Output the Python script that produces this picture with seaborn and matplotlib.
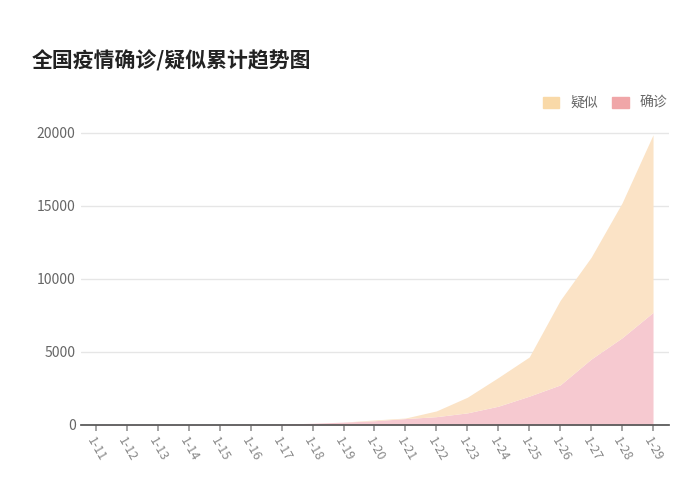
import matplotlib
matplotlib.use("Agg")
import matplotlib.pyplot as plt
import seaborn as sns
import numpy as np
from matplotlib.patches import Patch

dates = ["1-11","1-12","1-13","1-14","1-15","1-16","1-17","1-18","1-19","1-20",
         "1-21","1-22","1-23","1-24","1-25","1-26","1-27","1-28","1-29"]
confirmed = [41,41,41,41,41,45,62,121,198,291,440,571,830,1287,1975,2744,4515,5974,7711]
suspected = [0,0,0,0,0,0,0,0,0,54,37,393,1072,1965,2684,5794,6973,9239,12167]

sns.set_theme(style="white")
plt.rcParams['font.family'] = ['Noto Sans CJK SC', 'DejaVu Sans']

fig = plt.figure(figsize=(7, 5), dpi=100)
ax = fig.add_axes([0.115, 0.15, 0.84, 0.63])
x = np.arange(len(dates))
top = np.array(confirmed) + np.array(suspected)
ax.fill_between(x, 0, confirmed, color="#f6c9d0", lw=0, zorder=2)
ax.fill_between(x, confirmed, top, color="#fbe3c6", lw=0, zorder=2)
ax.set_xlim(-0.5, len(dates) - 0.5)
ax.set_ylim(0, 21575)
ax.set_yticks([0, 5000, 10000, 15000, 20000])
ax.set_yticklabels(["0", "5000", "10000", "15000", "20000"], color="#666666", fontsize=10)
ax.yaxis.grid(True, color="#e6e6e6", lw=1)
ax.set_xticks(x)
ax.set_xticklabels(dates, rotation=-60, ha="left", rotation_mode="anchor", color="#888888", fontsize=9)
ax.tick_params(axis="x", length=4, color="#999999", bottom=True)
ax.tick_params(axis="y", length=0)
for s in ["top", "right", "left"]:
    ax.spines[s].set_visible(False)
ax.spines["bottom"].set_color("#555555")

fig.text(0.045, 0.865, "全国疫情确诊/疑似累计趋势图", fontsize=15, fontweight="bold", color="#222222")
ax.legend(handles=[Patch(color="#f9d9a8", label="疑似"), Patch(color="#f0a6a8", label="确诊")],
          loc="center right", bbox_to_anchor=(1.02, 1.022), ncol=2, frameon=False,
          handlelength=1.2, handleheight=0.9, fontsize=10, labelcolor="#666666", columnspacing=1.0)
fig.savefig("out.png", dpi=100)
